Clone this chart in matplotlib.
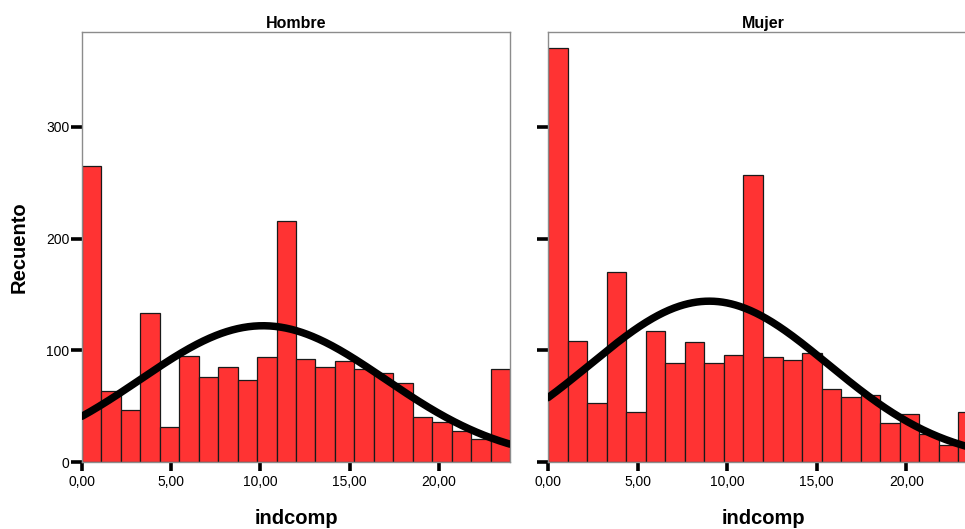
import numpy as np
import matplotlib
matplotlib.use("Agg")
import matplotlib.pyplot as plt

plt.rcParams['font.family'] = ['Liberation Sans', 'DejaVu Sans']

# ---- data ----
bin_edges = np.linspace(0, 24, 23)          # 22 bins from 0 to 24
hombre_counts = [265, 64, 47, 133, 31, 95, 76, 85, 73, 94, 216, 92,
                 85, 90, 83, 80, 71, 40, 36, 28, 21, 83]
mujer_counts = [371, 108, 53, 170, 45, 117, 89, 107, 89, 96, 257, 94,
                91, 98, 65, 58, 60, 35, 43, 25, 15, 45]
panel_titles = ["Hombre", "Mujer"]
# normal-curve overlay parameters (mean, sd, peak height)
hombre_fit = (10.15, 6.87, 122)
mujer_fit = (9.0, 6.65, 144)
x_ticks = [0, 5, 10, 15, 20]
x_tick_labels = ["0,00", "5,00", "10,00", "15,00", "20,00"]
y_ticks = [0, 100, 200, 300]
y_tick_labels = ["0", "100", "200", "300"]

W, H = 965, 529
fig = plt.figure(figsize=(W / 100, H / 100), dpi=100)

def px_axes(x0, y0, x1, y1):
    return fig.add_axes([x0 / W, 1 - y1 / H, (x1 - x0) / W, (y1 - y0) / H])

axes = [px_axes(82, 32, 510, 462), px_axes(548, 32, 978, 462)]
data = [(hombre_counts, hombre_fit), (mujer_counts, mujer_fit)]

for i, (ax, (counts, fit)) in enumerate(zip(axes, data)):
    widths = np.diff(bin_edges)
    ax.bar(bin_edges[:-1], counts, width=widths, align='edge',
           color='#ff3333', edgecolor='#1a1a1a', linewidth=0.9, zorder=2)
    mean, sd, peak = fit
    xs = np.linspace(0, 24, 400)
    ys = peak * np.exp(-0.5 * ((xs - mean) / sd) ** 2)
    ax.plot(xs, ys, color='black', linewidth=5.4, solid_capstyle='round', zorder=3)
    ax.set_xlim(0, 24)
    ax.set_ylim(0, 385)
    for s in ax.spines.values():
        s.set_color('#8c8c8c')
        s.set_linewidth(1.0)
    ax.set_xticks(x_ticks)
    ax.set_xticklabels(x_tick_labels, fontsize=10)
    ax.set_yticks(y_ticks)
    if i == 0:
        ax.set_yticklabels(y_tick_labels, fontsize=10)
        ax.set_ylabel("Recuento", fontsize=14.5, fontweight='bold')
        ax.yaxis.set_label_coords(-0.125, 0.5)
    else:
        ax.set_yticklabels([])
    ax.tick_params(axis='x', length=6.5, width=2.6, color='black', pad=3, direction='out')
    ax.tick_params(axis='y', length=8, width=2.6, color='black', pad=1, direction='out')
    ax.set_xlabel("indcomp", fontsize=14.5, fontweight='bold')
    ax.xaxis.set_label_coords(0.5, -0.11)
    ax.set_title(panel_titles[i], fontsize=11.5, fontweight='bold', pad=3)

fig.savefig("out.png", dpi=100)
